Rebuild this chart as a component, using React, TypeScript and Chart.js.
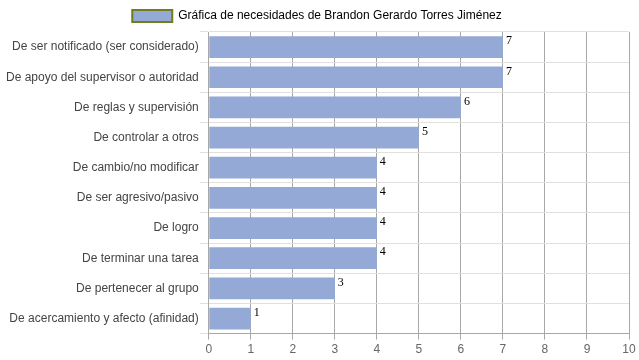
import React, { useEffect, useRef } from "react";
import { Chart, registerables } from "chart.js";

Chart.register(...registerables);

const categories = [
  "De ser notificado (ser considerado)",
  "De apoyo del supervisor o autoridad",
  "De reglas y supervisión",
  "De controlar a otros",
  "De cambio/no modificar",
  "De ser agresivo/pasivo",
  "De logro",
  "De terminar una tarea",
  "De pertenecer al grupo",
  "De acercamiento y afecto (afinidad)",
];
const values = [7, 7, 6, 5, 4, 4, 4, 4, 3, 1];
const seriesLabel = "Gráfica de necesidades de Brandon Gerardo Torres Jiménez";

const valueLabels = {
  id: "valueLabels",
  afterDatasetsDraw(chart: any) {
    const ctx = chart.ctx;
    const meta = chart.getDatasetMeta(0);
    ctx.save();
    ctx.fillStyle = "#000";
    ctx.font = '12px "Liberation Serif", "DejaVu Serif", serif';
    ctx.textAlign = "left";
    ctx.textBaseline = "top";
    meta.data.forEach((bar: any, i: number) => {
      const top = bar.y - bar.height / 2;
      ctx.fillText(String(values[i]), bar.x + 3, top - 1);
    });
    ctx.restore();
  },
};

export default function App() {
  const ref = useRef<HTMLCanvasElement | null>(null);
  useEffect(() => {
    if (!ref.current) return;
    const font = { family: '"Liberation Sans", Arial, sans-serif', size: 12 };
    const chart = new Chart(ref.current, {
      type: "bar",
      data: {
        labels: categories,
        datasets: [
          {
            label: seriesLabel,
            data: values,
            backgroundColor: "#94a9d5",
            borderWidth: 0,
          },
        ],
      },
      options: {
        indexAxis: "y",
        animation: false,
        responsive: false,
        maintainAspectRatio: false,
        layout: { padding: { right: 10, top: 0, bottom: 0, left: 5 } },
        plugins: {
          legend: {
            labels: {
              color: "#444",
              font,
              boxWidth: 40,
              generateLabels: () => [
                {
                  text: seriesLabel,
                  fillStyle: "#94a9d5",
                  strokeStyle: "#6f7d1c",
                  lineWidth: 2,
                  hidden: false,
                  datasetIndex: 0,
                } as any,
              ],
            },
          },
          tooltip: { enabled: false },
        },
        scales: {
          x: {
            min: 0,
            max: 10,
            z: 1,
            ticks: { stepSize: 1, color: "#666", font },
            grid: { color: "#a8a8a8", tickLength: 6 },
            border: { color: "#a8a8a8" },
          },
          y: {
            ticks: { color: "#444", font, padding: 1 },
            grid: { color: "#e0e0e0", offset: true, tickLength: 9 },
            border: { color: "#a8a8a8" },
          },
        },
      },
      plugins: [valueLabels],
    });
    return () => chart.destroy();
  }, []);
  return (
    <div style={{ position: "fixed", left: 0, top: 0, width: 639, height: 360, background: "#fff" }}>
      <canvas ref={ref} width={639} height={360} style={{ width: 639, height: 360 }} />
    </div>
  );
}
